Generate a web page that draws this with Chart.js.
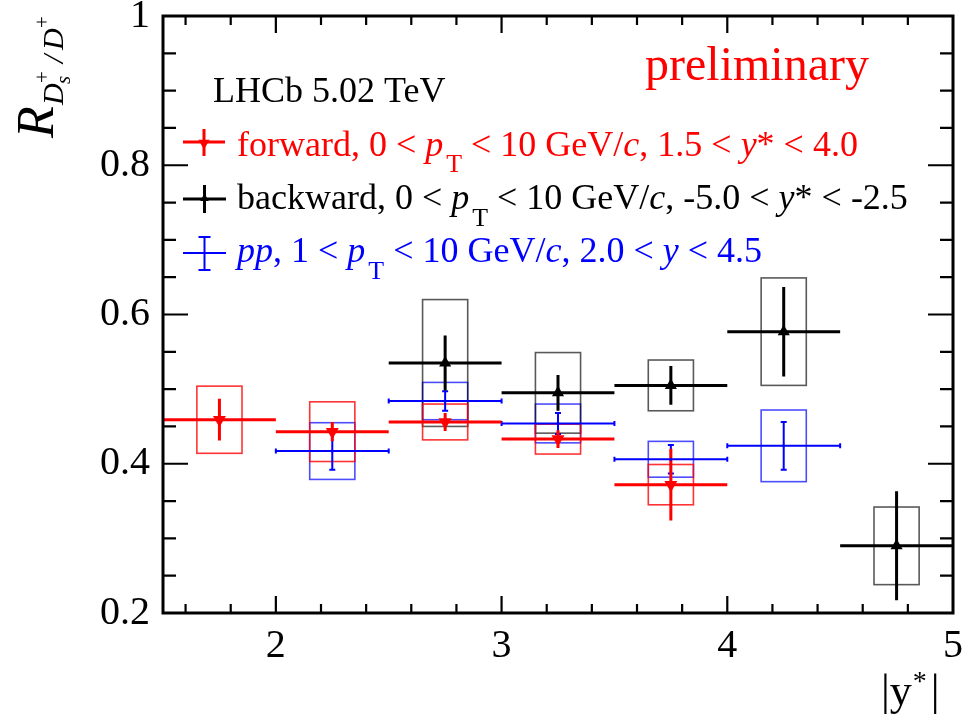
<!DOCTYPE html>
<html><head><meta charset="utf-8">
<script src="https://cdn.jsdelivr.net/npm/chart.js@4.4.1/dist/chart.umd.min.js"></script>
<style>html,body{margin:0;padding:0;background:#fff}#wrap{width:966px;height:719px;position:relative}
.pre{font-family:"Liberation Serif";position:absolute;left:-999px;top:0}</style>
</head><body><div id="wrap"><canvas id="c" width="966" height="719"></canvas></div>
<span class="pre">a</span><span class="pre" style="font-style:italic">a</span>
<script>
// ---- data ----
const xTickLabels = [2, 3, 4, 5];
const yTickLabels = [0.2, 0.4, 0.6, 0.8, 1];

const binHalfWidth = 0.25; // |y*| bin half width (x error)

const fwdX    = [1.75, 2.25, 2.75, 3.25, 3.75];
const fwdY    = [0.459, 0.443, 0.456, 0.433, 0.372];
const fwdStat = [0.028, 0.013, 0.012, 0.012, 0.048];
const fwdSys  = [0.045, 0.040, 0.024, 0.020, 0.027];

const bwdX    = [2.75, 3.25, 3.75, 4.25, 4.75];
const bwdY    = [0.535, 0.495, 0.505, 0.577, 0.290];
const bwdStat = [0.037, 0.024, 0.026, 0.060, 0.073];
const bwdSys  = [0.085, 0.054, 0.034, 0.072, 0.052];

const ppX    = [2.25, 2.75, 3.25, 3.75, 4.25];
const ppY    = [0.417, 0.484, 0.454, 0.406, 0.424];
const ppStat = [0.025, 0.013, 0.014, 0.019, 0.032];
const ppSys  = [0.038, 0.025, 0.026, 0.024, 0.048];

// ---- styles ----
const SERIF = '"Liberation Serif", "DejaVu Serif", serif';
const boxHalf = 0.1;
const series = [
  {x: ppX,  y: ppY,  stat: ppStat,  sys: ppSys,  color: '#0000ff', box: 'rgba(0,0,255,0.7)', lw: 2, caps: true},
  {x: bwdX, y: bwdY, stat: bwdStat, sys: bwdSys, color: '#000000', box: 'rgba(0,0,0,0.65)', lw: 3, caps: false},
  {x: fwdX, y: fwdY, stat: fwdStat, sys: fwdSys, color: '#ff0000', box: 'rgba(255,0,0,0.8)', lw: 3, caps: false}
];

function pts(xs, ys) { return xs.map((v, i) => ({x: v, y: ys[i]})); }

function drawRich(ctx, x, y, segs, color, size) {
  ctx.save();
  ctx.fillStyle = color; ctx.textBaseline = 'alphabetic'; ctx.textAlign = 'left';
  for (const s of segs) {
    const fs = (s.sub || s.sup) ? size * 0.72 : size;
    ctx.font = (s.it ? 'italic ' : '') + fs + 'px ' + SERIF;
    const dy = s.sub ? size * 0.47 : (s.sup ? -size * 0.4 : 0);
    x += (s.dx || 0);
    ctx.fillText(s.t, x, y + dy);
    x += ctx.measureText(s.t).width;
  }
  ctx.restore();
  return x;
}

function tri(ctx, x, y, r, down, color) {
  ctx.save(); ctx.fillStyle = color; ctx.beginPath();
  const s = down ? -1 : 1;
  ctx.moveTo(x, y - s * r);
  ctx.lineTo(x + r * 0.866, y + s * r * 0.5);
  ctx.lineTo(x - r * 0.866, y + s * r * 0.5);
  ctx.closePath(); ctx.fill(); ctx.restore();
}

const errPlugin = {
  id: 'errs',
  beforeDatasetsDraw(chart) {
    const ctx = chart.ctx, xs = chart.scales.x, ys = chart.scales.y;
    ctx.save();
    for (const s of series) {
      ctx.strokeStyle = s.box; ctx.lineWidth = 1.6;
      s.x.forEach((xv, i) => {
        const l = xs.getPixelForValue(xv - boxHalf), r = xs.getPixelForValue(xv + boxHalf);
        const t = ys.getPixelForValue(s.y[i] + s.sys[i]), b = ys.getPixelForValue(s.y[i] - s.sys[i]);
        ctx.strokeRect(l, t, r - l, b - t);
      });
    }
    for (const s of series) {
      ctx.strokeStyle = s.color; ctx.lineWidth = s.lw; ctx.lineCap = 'butt';
      s.x.forEach((xv, i) => {
        const px = xs.getPixelForValue(xv), py = ys.getPixelForValue(s.y[i]);
        const l = xs.getPixelForValue(xv - binHalfWidth), r = xs.getPixelForValue(xv + binHalfWidth);
        const t = ys.getPixelForValue(s.y[i] + s.stat[i]), b = ys.getPixelForValue(s.y[i] - s.stat[i]);
        ctx.beginPath();
        ctx.moveTo(l, py); ctx.lineTo(r, py);
        ctx.moveTo(px, t); ctx.lineTo(px, b);
        if (s.caps) {
          ctx.moveTo(l, py - 2.5); ctx.lineTo(l, py + 2.5);
          ctx.moveTo(r, py - 2.5); ctx.lineTo(r, py + 2.5);
          ctx.moveTo(px - 3, t); ctx.lineTo(px + 3, t);
          ctx.moveTo(px - 3, b); ctx.lineTo(px + 3, b);
        }
        ctx.stroke();
      });
    }
    ctx.restore();
  },
  afterDraw(chart) {
    const ctx = chart.ctx, xs = chart.scales.x, ys = chart.scales.y, a = chart.chartArea;
    ctx.save();
    ctx.strokeStyle = '#000'; ctx.lineWidth = 3;
    ctx.strokeRect(a.left, a.top, a.right - a.left, a.bottom - a.top);
    ctx.lineWidth = 2.2;
    ctx.beginPath();
    for (let k = 8; k <= 25; k++) {
      const v = k * 0.2, px = xs.getPixelForValue(v);
      if (px < a.left + 1 || px > a.right - 1) continue;
      const major = Math.abs(v - Math.round(v)) < 1e-6;
      const L = major ? 17 : 9;
      ctx.moveTo(px, a.bottom); ctx.lineTo(px, a.bottom - L);
      ctx.moveTo(px, a.top); ctx.lineTo(px, a.top + L);
    }
    for (let k = 5; k <= 19; k++) {
      const v = k * 0.05, py = ys.getPixelForValue(v);
      const major = (k % 4) === 0;
      const L = major ? 25 : 13;
      ctx.moveTo(a.left, py); ctx.lineTo(a.left + L, py);
      ctx.moveTo(a.right, py); ctx.lineTo(a.right - L, py);
    }
    ctx.stroke();

    // x title |y*|
    ctx.fillStyle = '#000'; ctx.textBaseline = 'alphabetic'; ctx.textAlign = 'left';
    let x = 881;
    ctx.font = '44px ' + SERIF;
    ctx.fillText('|y', x, 705); x += ctx.measureText('|y').width + 1;
    ctx.font = '28px ' + SERIF;
    ctx.fillText('*', x, 690); x += ctx.measureText('*').width + 4;
    ctx.font = '44px ' + SERIF;
    ctx.fillText('|', x, 705);

    // y title R_{D_s^+/D^+}
    ctx.save();
    ctx.translate(53, 138); ctx.rotate(-Math.PI / 2);
    ctx.font = 'italic 52px ' + SERIF; ctx.fillText('R', 0, 0);
    ctx.font = 'italic 30px ' + SERIF; ctx.fillText('D', 33, 10);
    ctx.font = 'italic 21px ' + SERIF; ctx.fillText('s', 54, 17);
    ctx.font = '21px ' + SERIF; ctx.fillText('+', 55, -4);
    ctx.font = 'italic 30px ' + SERIF; ctx.fillText('/', 75, 10);
    ctx.font = 'italic 30px ' + SERIF; ctx.fillText('D', 88, 10);
    ctx.font = '21px ' + SERIF; ctx.fillText('+', 110, -4);
    ctx.restore();

    ctx.fillStyle = '#ff0000'; ctx.font = '48px ' + SERIF;
    ctx.fillText('preliminary', 645, 80);

    drawRich(ctx, 213, 101.5, [{t: 'LHCb 5.02 TeV'}], '#000', 36);
    ctx.lineWidth = 3; ctx.strokeStyle = '#ff0000';
    ctx.beginPath(); ctx.moveTo(183, 142); ctx.lineTo(225, 142); ctx.moveTo(204, 129); ctx.lineTo(204, 156); ctx.stroke();
    tri(ctx, 204, 143, 6.5, true, '#ff0000');
    drawRich(ctx, 237, 155.5, [
      {t: 'forward, 0 < '}, {t: 'p', it: 1}, {t: 'T', sub: 1, dx: 3}, {t: ' < 10 GeV/'}, {t: 'c', it: 1},
      {t: ', 1.5 < '}, {t: 'y', it: 1}, {t: '* < 4.0'}], '#ff0000', 36);
    ctx.strokeStyle = '#000';
    ctx.beginPath(); ctx.moveTo(183, 199); ctx.lineTo(226, 199); ctx.moveTo(204.5, 185); ctx.lineTo(204.5, 213); ctx.stroke();
    tri(ctx, 204.5, 198.5, 5, false, '#000');
    drawRich(ctx, 237, 209, [
      {t: 'backward, 0 < '}, {t: 'p', it: 1}, {t: 'T', sub: 1, dx: 3}, {t: ' < 10 GeV/'}, {t: 'c', it: 1},
      {t: ', -5.0 < '}, {t: 'y', it: 1}, {t: '* < -2.5'}], '#000', 36);
    ctx.strokeStyle = '#0000ff'; ctx.lineWidth = 2;
    ctx.beginPath(); ctx.moveTo(183, 253); ctx.lineTo(226, 253);
    ctx.moveTo(204.5, 237); ctx.lineTo(204.5, 270);
    ctx.moveTo(198.5, 237); ctx.lineTo(210.5, 237);
    ctx.moveTo(198.5, 270); ctx.lineTo(210.5, 270);
    ctx.stroke();
    drawRich(ctx, 237, 262, [
      {t: 'pp', it: 1}, {t: ', 1 < '}, {t: 'p', it: 1}, {t: 'T', sub: 1, dx: 3}, {t: ' < 10 GeV/'}, {t: 'c', it: 1},
      {t: ', 2.0 < '}, {t: 'y', it: 1}, {t: ' < 4.5'}], '#0000ff', 36);
    ctx.restore();
  }
};

const chart = new Chart(document.getElementById('c'), {
  type: 'scatter',
  data: {
    datasets: [
      {label: 'pp', data: pts(ppX, ppY), pointStyle: 'circle', pointRadius: 1.5, backgroundColor: '#0000ff', borderWidth: 0},
      {label: 'backward', data: pts(bwdX, bwdY), pointStyle: 'triangle', pointRadius: 7, backgroundColor: '#000', borderWidth: 0},
      {label: 'forward', data: pts(fwdX, fwdY), pointStyle: 'triangle', rotation: 180, pointRadius: 7.5, backgroundColor: '#ff0000', borderWidth: 0}
    ]
  },
  options: {
    responsive: false, animation: false, devicePixelRatio: 1,
    layout: {padding: {left: 0, top: 16, right: 13, bottom: 0}},
    plugins: {legend: {display: false}, tooltip: {enabled: false}},
    scales: {
      x: {
        type: 'linear', min: 1.5, max: 5,
        grid: {display: false, drawTicks: false, tickLength: 0}, border: {display: false},
        afterBuildTicks: ax => { ax.ticks = xTickLabels.map(v => ({value: v})); },
        afterFit: ax => { ax.height = 106; ax.paddingLeft = 0; ax.paddingRight = 0; },
        ticks: {autoSkip: false, maxRotation: 0, padding: 9, color: '#000', font: {family: SERIF, size: 40}, callback: v => String(v)}
      },
      y: {
        type: 'linear', min: 0.2, max: 1,
        grid: {display: false, drawTicks: false, tickLength: 0}, border: {display: false},
        afterBuildTicks: ax => { ax.ticks = yTickLabels.map(v => ({value: v})); },
        afterFit: ax => { ax.width = 163; ax.paddingTop = 0; ax.paddingBottom = 0; },
        ticks: {autoSkip: false, padding: 13, color: '#000', font: {family: SERIF, size: 40}, callback: v => String(v)}
      }
    }
  },
  plugins: [errPlugin]
});
if (document.fonts && document.fonts.load) {
  Promise.all([
    document.fonts.load('40px "Liberation Serif"'),
    document.fonts.load('italic 40px "Liberation Serif"')
  ]).then(() => chart.update()).catch(() => {});
}
</script>
</body></html>
